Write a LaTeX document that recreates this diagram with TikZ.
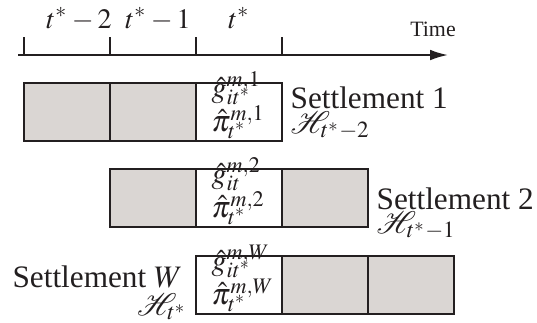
\documentclass[tikz,border=0pt]{standalone}
\usepackage{mathptmx}
\usepackage{mathrsfs}
\usepackage{fontspec}
\setmainfont{Liberation Serif}
\usetikzlibrary{arrows.meta}
\definecolor{cellfill}{HTML}{DAD6D3}
\definecolor{darkline}{HTML}{231F20}
\tikzset{
  cell/.style={rectangle, draw=darkline, line width=0.65pt, inner sep=0pt, outer sep=0pt, minimum width=27.52pt, minimum height=18.56pt},
  shaded/.style={cell, fill=cellfill},
  blank/.style={cell, fill=white},
  lbl/.style={inner sep=0pt, anchor=base west, text=darkline},
  estimate/.style={lbl, font=\fontsize{9.6}{11}\selectfont},
  ticklabel/.style={inner sep=0pt, anchor=base, text=darkline, font=\small},
  timelabel/.style={ticklabel, font=\scriptsize},
  axis/.style={-{Latex[length=5.7pt, width=3.4pt]}, line width=0.65pt, draw=darkline},
  tick/.style={line width=0.65pt, draw=darkline}
}
\begin{document}
\begin{tikzpicture}[x=0.32pt, y=-0.32pt]
\useasboundingbox (0,0) rectangle (537,322);

% time axis
\coordinate (axstart) at (18,55);
\coordinate (axend) at (448,55);
\draw[axis] (axstart) -- (axend);
\draw[tick] (24,37) -- (24,55);
\draw[tick] (110,37) -- (110,55);
\draw[tick] (196,37) -- (196,55);
\draw[tick] (282,37) -- (282,55);

\node[ticklabel] (lab2) at (79,28) {$t^*-2$};
\node[ticklabel] (lab1) at (158,28) {$t^*-1$};
\node[ticklabel] (lab0) at (239,28) {$t^*$};
\node[timelabel] (time) at (433,36) {Time};

% settlement 1
\node[shaded] (s1a) at (67,112) {};
\node[shaded] (s1b) at (153,112) {};
\node[blank] (s1c) at (239,112) {};
\node[estimate] (g1) at (211,97) {$\hat g^{m,1}_{\smash{it^*}}$};
\node[estimate] (p1) at (211,131) {$\hat\pi^{m,1}_{\smash{t^*}}$};
\node[lbl] (name1) at (290,108) {Settlement 1};
\node[lbl] (hist1) at (290,133) {$\mathscr{H}_{t^*-2}$};

% settlement 2
\node[shaded] (s2a) at (153,198) {};
\node[blank] (s2b) at (239,198) {};
\node[shaded] (s2c) at (325,198) {};
\node[estimate] (g2) at (211,183) {$\hat g^{m,2}_{\smash{it}}$};
\node[estimate] (p2) at (211,217) {$\hat\pi^{m,2}_{\smash{t^*}}$};
\node[lbl] (name2) at (376,209) {Settlement 2};
\node[lbl] (hist2) at (376,233) {$\mathscr{H}_{t^*-1}$};

% settlement W
\node[blank] (s3a) at (239,285) {};
\node[shaded] (s3b) at (325,285) {};
\node[shaded] (s3c) at (411,285) {};
\node[estimate] (gW) at (211,270) {$\hat g^{m,W}_{\smash{it^*}}$};
\node[estimate] (pW) at (211,304) {$\hat\pi^{m,W}_{\smash{t^*}}$};
\node[lbl, anchor=base east] (nameW) at (183,287) {Settlement $W$};
\node[lbl, anchor=base east] (histW) at (188,315) {$\mathscr{H}_{t^*}$};

\end{tikzpicture}
\end{document}
